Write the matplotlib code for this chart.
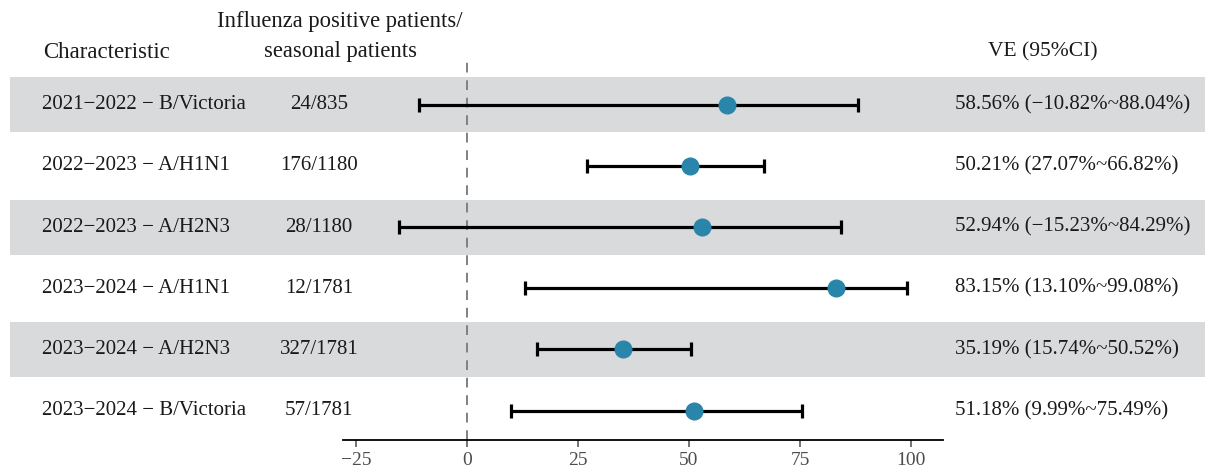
import matplotlib.pyplot as plt
import matplotlib.transforms as mtransforms
from matplotlib.patches import Rectangle

plt.rcParams['font.family'] = ['Liberation Serif', 'DejaVu Serif']

labels = ['2021\u22122022 \u2212 B/Victoria', '2022\u22122023 \u2212 A/H1N1',
          '2022\u22122023 \u2212 A/H2N3', '2023\u22122024 \u2212 A/H1N1',
          '2023\u22122024 \u2212 A/H2N3', '2023\u22122024 \u2212 B/Victoria']
counts = ['24/835', '176/1180', '28/1180', '12/1781', '327/1781', '57/1781']
ve = [58.56, 50.21, 52.94, 83.15, 35.19, 51.18]
lo = [-10.82, 27.07, -15.23, 13.10, 15.74, 9.99]
hi = [88.04, 66.82, 84.29, 99.08, 50.52, 75.49]
ve_text = ['58.56% (\u221210.82%~88.04%)', '50.21% (27.07%~66.82%)',
           '52.94% (\u221215.23%~84.29%)', '83.15% (13.10%~99.08%)',
           '35.19% (15.74%~50.52%)', '51.18% (9.99%~75.49%)']
xticks = [-25, 0, 25, 50, 75, 100]

W, H = 1216, 471
fig = plt.figure(figsize=(W / 100, H / 100), dpi=100)
ax = fig.add_axes([343 / W, (H - 440) / H, 600 / W, 380 / H])

ypos = list(range(len(labels)))
ax.set_ylim(5.48, -0.73)
ax.set_xlim(-27.9, 107.2)

trans = mtransforms.blended_transform_factory(fig.transFigure, ax.transData)

# grey bands on every other row
for i in ypos[::2]:
    ax.add_patch(Rectangle((10 / W, i - 0.45), 1195 / W, 0.9, transform=trans,
                           facecolor='#D9DADC', edgecolor='none', clip_on=False, zorder=0))

ax.axvline(0, color='#808080', lw=1.4, ls=(0, (5, 4)), zorder=1)

xerr = [[v - l for v, l in zip(ve, lo)], [h - v for v, h in zip(ve, hi)]]
ax.errorbar(ve, ypos, xerr=xerr, fmt='none', ecolor='black', elinewidth=2.3,
            capsize=5, capthick=2.3, zorder=2)
ax.plot(ve, ypos, 'o', color='#2A85AA', markersize=12, zorder=3)

tc = '#1A1A1A'
for i in ypos:
    ax.text(42 / W, i, labels[i], transform=trans, ha='left', va='center', fontsize=15, color=tc)
    ax.text(319 / W, i, counts[i], transform=trans, ha='center', va='center', fontsize=15, color=tc)
    ax.text(955 / W, i, ve_text[i], transform=trans, ha='left', va='center', fontsize=15, color=tc)

fig.text(43 / W, 1 - 52 / H, 'Characteristic', ha='left', va='center', fontsize=16.5, color=tc)
fig.text(340 / W, 1 - 22 / H, 'Influenza positive patients/', ha='center', va='center', fontsize=16.3, color=tc)
fig.text(340 / W, 1 - 52 / H, 'seasonal patients', ha='center', va='center', fontsize=16.3, color=tc)
fig.text(1043 / W, 1 - 52 / H, 'VE (95%CI)', ha='center', va='center', fontsize=15.5, color=tc)

for s in ['left', 'right', 'top']:
    ax.spines[s].set_visible(False)
ax.spines['bottom'].set_linewidth(1.3)
ax.set_yticks([])
ax.set_xticks(xticks)
ax.set_xticklabels([str(t).replace('-', '\u2212') for t in xticks])
ax.tick_params(axis='x', labelsize=14, length=5, width=1.1, colors='#4D4D4D')
ax.patch.set_alpha(0)

fig.savefig('out.png', dpi=100)
